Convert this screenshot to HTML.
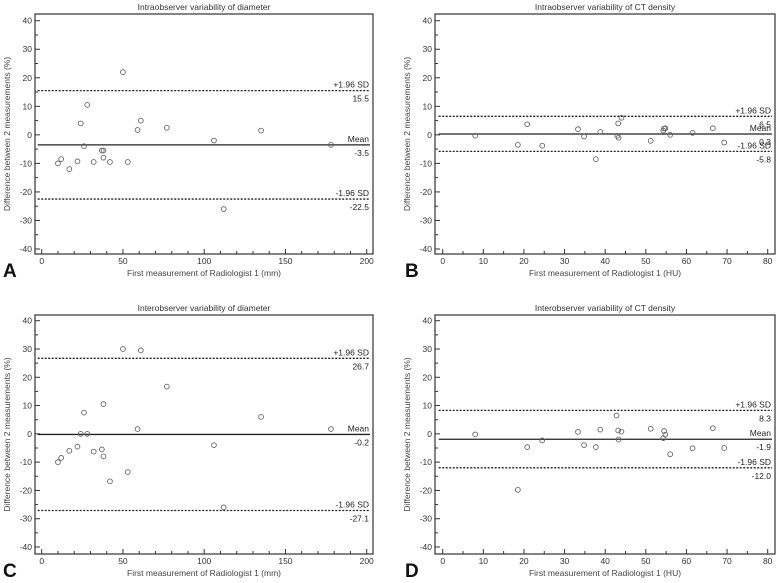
<!DOCTYPE html>
<html><head><meta charset="utf-8"><style>
html,body{margin:0;padding:0;background:#fff;}
svg{display:block;font-family:"Liberation Sans",Arial,sans-serif;}
</style></head><body>
<svg id="s" width="778" height="583" viewBox="0 0 778 583" xmlns="http://www.w3.org/2000/svg"></svg>
<script>
var S=document.getElementById('s'),h='';
function panel(o){
 var L=o.L,R=o.R,T=o.T,B=o.B,x0=o.x0,x1=o.x1,xmax=o.xmax,y40=o.y40,ym40=o.ym40;
 function X(v){return x0+(x1-x0)*v/xmax;}
 function Y(v){return y40+(ym40-y40)*(40-v)/80;}
 h+='<rect x="'+L+'" y="'+T+'" width="'+(R-L)+'" height="'+(B-T)+'" fill="none" stroke="#333" stroke-width="1.2"/>';
 h+='<text x="'+((L+R)/2)+'" y="'+(T-4)+'" font-size="8.5" fill="#333" text-anchor="middle">'+o.title+'</text>';
 for(var v=-40;v<=40;v+=5){var y=Y(v);h+='<line x1="'+L+'" x2="'+(L+(v%10==0?5:3))+'" y1="'+y+'" y2="'+y+'" stroke="#333"/>';
  if(v%10==0)h+='<text x="'+(L-3)+'" y="'+(y+3)+'" font-size="8.5" fill="#333" text-anchor="end">'+v+'</text>';}
 for(var i=0;i<=xmax;i+=o.minor){var x=X(i);var maj=(i%o.major==0);h+='<line x1="'+x+'" x2="'+x+'" y1="'+B+'" y2="'+(B-(maj?5:3))+'" stroke="#333"/>';
  if(maj)h+='<text x="'+x+'" y="'+(B+10)+'" font-size="8.5" fill="#333" text-anchor="middle">'+i+'</text>';}
 h+='<text x="'+((L+R)/2)+'" y="'+(B+22)+'" font-size="8.5" fill="#444" text-anchor="middle">'+o.xl+'</text>';
 h+='<text transform="translate('+(L-25)+','+((T+B)/2)+') rotate(-90)" font-size="8.5" fill="#444" text-anchor="middle">Difference between 2 measurements (%)</text>';
 h+='<text x="'+o.lx+'" y="'+(B+23)+'" font-size="19" font-weight="bold" fill="#111">'+o.letter+'</text>';
 var xa=x0-4;
 [[o.up,true,'+1.96 SD'],[o.mean,false,'Mean'],[o.lo,true,'-1.96 SD']].forEach(function(l){
  var y=Y(l[0]);h+='<line x1="'+xa+'" x2="'+(R-3)+'" y1="'+y+'" y2="'+y+'" stroke="#222" stroke-width="1.3"'+(l[1]?' stroke-dasharray="2,1.5"':'')+'/>';
  h+='<text x="'+(R-4)+'" y="'+(y-3)+'" font-size="8.5" fill="#222" text-anchor="end">'+l[2]+'</text>';
  h+='<text x="'+(R-4)+'" y="'+(y+11)+'" font-size="8.5" fill="#222" text-anchor="end">'+l[0].toFixed(1)+'</text>';});
 o.pts.forEach(function(p){h+='<circle cx="'+X(p[0])+'" cy="'+Y(p[1])+'" r="2.4" fill="none" stroke="#666" stroke-width="0.9"/>';});
}
var A=[[10,-10],[12,-8.5],[17,-12],[22,-9.3],[24,4],[26,-4],[28,10.5],[32,-9.5],[37,-5.5],[38,-5.5],[38,-8],[42,-9.5],[50,22],[53,-9.5],[59,1.7],[61,5],[77,2.5],[106,-2],[112,-26],[135,1.5],[178,-3.5]];
var C=[[10,-10],[12,-8.5],[17,-6],[22,-4.5],[24,0],[26,7.5],[28,0],[32,-6.3],[37,-5.5],[38,-8],[38,10.5],[42,-16.8],[50,30],[53,-13.5],[59,1.7],[61,29.5],[77,16.7],[106,-4],[112,-26],[135,6],[178,1.7]];
var Bp=[[8,-0.3],[18.5,-3.5],[20.8,3.7],[24.5,-3.8],[33.3,2],[34.8,-0.6],[37.7,-8.5],[38.8,1],[43,-0.3],[43.2,4],[43.3,-1],[44,6],[51.2,-2.1],[54.3,1.5],[54.5,2.2],[54.8,2.3],[56,0],[61.5,0.7],[66.5,2.3],[69.3,-2.7]];
var D=[[8,-0.2],[18.5,-19.8],[20.8,-4.7],[24.5,-2.3],[33.3,0.7],[34.8,-4],[37.7,-4.7],[38.8,1.5],[42.8,6.5],[43.2,1.2],[43.3,-2],[44,0.8],[51.2,1.8],[54.3,-1.5],[54.5,1],[54.8,-0.3],[56,-7.2],[61.5,-5.1],[66.5,2],[69.3,-5]];
panel({L:35,R:373,T:14,B:254,x0:41.7,x1:366.7,xmax:200,y40:20.7,ym40:249,title:'Intraobserver variability of diameter',xl:'First measurement of Radiologist 1 (mm)',letter:'A',lx:3,up:15.5,mean:-3.5,lo:-22.5,pts:A,minor:10,major:50});
panel({L:435,R:775,T:14,B:254,x0:442.7,x1:767.7,xmax:80,y40:20.7,ym40:249,title:'Intraobserver variability of CT density',xl:'First measurement of Radiologist 1 (HU)',letter:'B',lx:405,up:6.5,mean:0.3,lo:-5.8,pts:Bp,minor:5,major:10});
panel({L:35,R:373,T:315,B:554,x0:41.7,x1:366.7,xmax:200,y40:320.7,ym40:547,title:'Interobserver variability of diameter',xl:'First measurement of Radiologist 1 (mm)',letter:'C',lx:3,up:26.7,mean:-0.2,lo:-27.1,pts:C,minor:10,major:50});
panel({L:435,R:775,T:315,B:554,x0:442.7,x1:767.7,xmax:80,y40:320.7,ym40:547,title:'Interobserver variability of CT density',xl:'First measurement of Radiologist 1 (HU)',letter:'D',lx:405,up:8.3,mean:-1.9,lo:-12.0,pts:D,minor:5,major:10});
S.innerHTML=h;
</script>
</body></html>
